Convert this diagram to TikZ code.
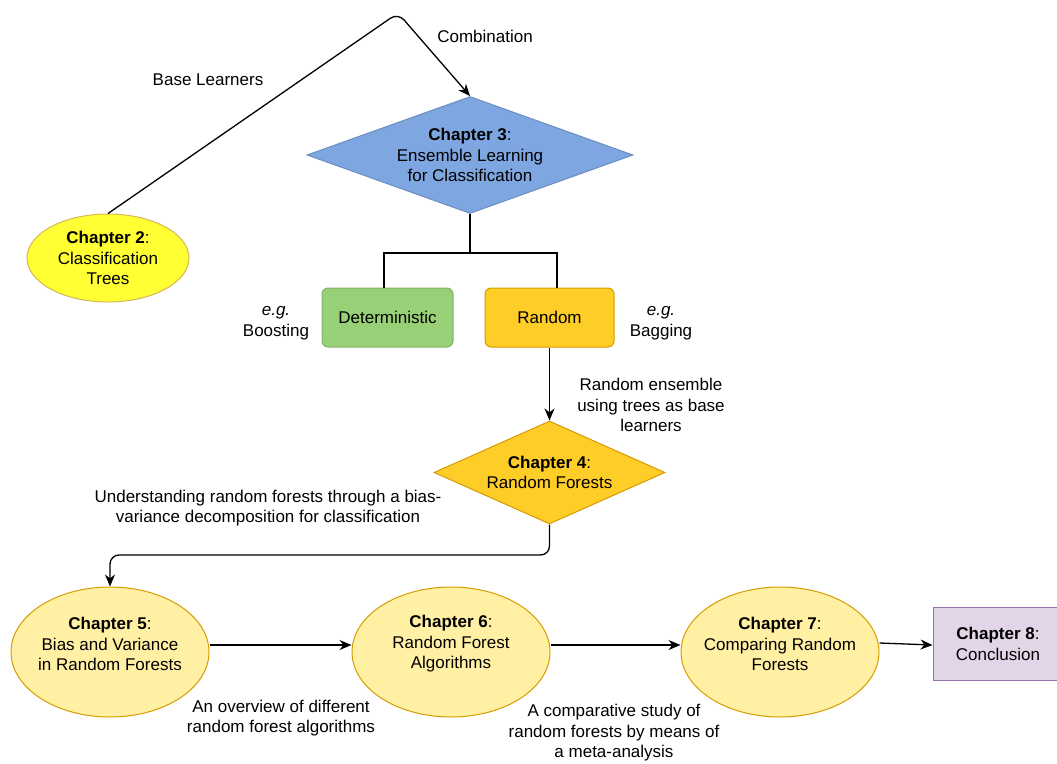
\documentclass[tikz,border=0pt]{standalone}
\usepackage{fontspec}
\setmainfont{Liberation Sans}
\usetikzlibrary{shapes.geometric,arrows.meta}
\definecolor{blueF}{HTML}{7EA6E0}
\definecolor{blueS}{HTML}{6C8EBF}
\definecolor{yelF}{HTML}{FFFF33}
\definecolor{yelS}{HTML}{D6B656}
\definecolor{greenF}{HTML}{97D077}
\definecolor{greenS}{HTML}{82B366}
\definecolor{orgF}{HTML}{FFCD28}
\definecolor{orgS}{HTML}{D79B00}
\definecolor{paleF}{HTML}{FFF0A3}
\definecolor{purF}{HTML}{E1D5E7}
\definecolor{purS}{HTML}{9673A6}
\begin{document}
\begin{tikzpicture}[x=1pt,y=-1pt,
  every node/.style={font=\fontsize{17}{20.5}\selectfont, align=center, inner sep=0pt},
  conn/.style={draw=black, line width=1.3pt, -{Stealth[length=12pt,width=10pt]}},
  plain/.style={draw=black, line width=1.3pt},
  dia/.style={shape=diamond, line width=1pt},
  ell/.style={shape=ellipse, line width=1pt, inner sep=-12pt},
  rbox/.style={rectangle, rounded corners=6pt, line width=1pt},
  lbl/.style={}
]
\useasboundingbox (0,0) rectangle (1057,763);

% nodes
\node[dia, fill=blueF, draw=blueS, minimum width=326pt, minimum height=117pt, aspect=2.786] (ch3) at (470,155)
  {\textbf{Chapter 3}:\\Ensemble Learning\\for Classification};
\node[ell, fill=yelF, draw=yelS, minimum width=162pt, minimum height=88pt] (ch2) at (108,258)
  {\textbf{Chapter 2}:\\Classification\\Trees};
\node[rbox, fill=greenF, draw=greenS, minimum width=131pt, minimum height=59pt] (det) at (387.5,317.5) {Deterministic};
\node[rbox, fill=orgF, draw=orgS, minimum width=129pt, minimum height=59pt] (rnd) at (549.5,317.5) {Random};
\node[dia, fill=orgF, draw=orgS, minimum width=231pt, minimum height=103pt, aspect=2.243] (ch4) at (549.5,472.5)
  {\textbf{Chapter 4}:\\Random Forests};
\node[ell, fill=paleF, draw=orgS, minimum width=198pt, minimum height=130pt] (ch5) at (110,652) {};
\node (ch5t) at (110,644) {\textbf{Chapter 5}:\\Bias and Variance\\in Random Forests};
\node[ell, fill=paleF, draw=orgS, minimum width=198pt, minimum height=130pt] (ch6) at (451,652) {};
\node (ch6t) at (451,644) {\textbf{Chapter 6}:\\Random Forest\\Algorithms};
\node[ell, fill=paleF, draw=orgS, minimum width=198pt, minimum height=130pt] (ch7) at (780,652) {};
\node (ch7t) at (780,644) {\textbf{Chapter 7}:\\Comparing Random\\Forests};
\node[rectangle, fill=purF, draw=purS, line width=1pt, minimum width=124pt, minimum height=73pt] (ch8) at (995,643.5) {};
\node (ch8t) at (998,644) {\textbf{Chapter 8}:\\Conclusion};

% labels
\node[lbl] (lbase) at (208,80) {Base Learners};
\node[lbl] (lcomb) at (485,36) {Combination};
\node[lbl] (lboost) at (276,323) {\textit{e.g.}\\Boosting};
\node[lbl] (lbag) at (661,323) {\textit{e.g.}\\Bagging};
\node[lbl] (lrand) at (651,405) {Random ensemble\\using trees as base\\learners};
\node[lbl] (lund) at (268,508) {Understanding random forests through a bias-\\variance decomposition for classification};
\node[lbl] (lover) at (281,718) {An overview of different\\random forest algorithms};
\node[lbl] (lcomp) at (614,733) {A comparative study of\\random forests by means of\\a meta-analysis};

% connectors
\coordinate (peak) at (398,13);
\draw[conn, rounded corners=9pt] (ch2.north) -- (peak) -- (ch3.north);
\coordinate (split) at (470,253);
\draw[plain] (ch3.south) -- (split);
\draw[plain] (split) -| ([xshift=-3.5pt]det.north);
\draw[plain] (split) -| ([xshift=7.5pt]rnd.north);
\draw[conn] (rnd.south) -- (ch4.north);
\coordinate (bend) at (330,555);
\draw[conn, rounded corners=9pt] (ch4.south) |- (bend) -| (ch5.north);
\draw[conn] ([yshift=7pt]ch5.east) -- ([yshift=7pt]ch6.west);
\draw[conn] ([yshift=7pt]ch6.east) -- ([yshift=7pt]ch7.west);
\draw[conn] ([yshift=9pt]ch7.east) -- ([yshift=-1.5pt]ch8.west);
\end{tikzpicture}
\end{document}
